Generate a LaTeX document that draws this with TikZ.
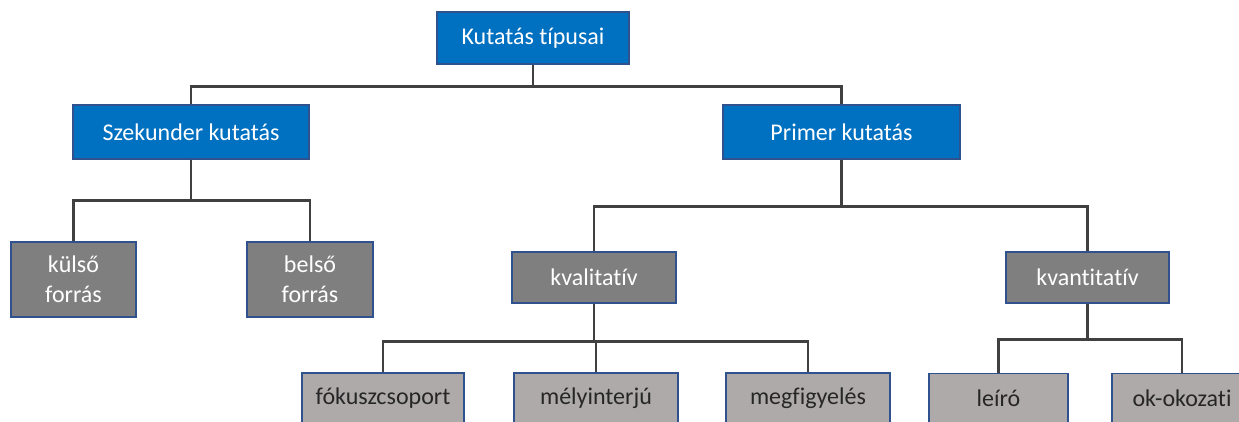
\documentclass[tikz,border=0pt]{standalone}
\usepackage{fontspec}
\setmainfont[Ligatures=NoCommon]{Carlito}
\definecolor{boxblue}{HTML}{0070C0}
\definecolor{edgeblue}{HTML}{2F528F}
\definecolor{darkgrey}{HTML}{7F7F7F}
\definecolor{lightgrey}{HTML}{AEAAAA}
\definecolor{linegrey}{HTML}{404040}
\definecolor{textdark}{HTML}{262626}
\begin{document}
\begin{tikzpicture}[x=1pt,y=-1pt,
  base/.style={rectangle, draw=edgeblue, line width=1.2pt, inner sep=0pt, align=center,
    font=\fontsize{24}{30}\selectfont},
  bluebox/.style={base, fill=boxblue, text=white},
  darkbox/.style={base, fill=darkgrey, text=white},
  lightbox/.style={base, fill=lightgrey, text=textdark},
  conn/.style={draw=linegrey, line width=2.4pt}]
\useasboundingbox (0,0) rectangle (1239,421);
\clip (0,0) rectangle (1239,421);
\node[bluebox, minimum width=192pt, minimum height=52pt] (top) at (533,38) {Kutatás típusai};
\node[bluebox, minimum width=236pt, minimum height=54pt] (sz) at (191,132) {Szekunder kutatás};
\node[bluebox, minimum width=237pt, minimum height=54pt] (pr) at (841.5,132) {Primer kutatás};
\node[darkbox, minimum width=125pt, minimum height=75pt] (kulso) at (73.5,279.5) {külső\\forrás};
\node[darkbox, minimum width=126pt, minimum height=75pt] (belso) at (310,279.5) {belső\\forrás};
\node[darkbox, minimum width=164pt, minimum height=51pt] (kval) at (594,277.5) {kvalitatív};
\node[darkbox, minimum width=163pt, minimum height=51pt] (kvant) at (1087.5,277.5) {kvantitatív};
\node[lightbox, minimum width=162pt, minimum height=50pt] (fok) at (383,398) {fókuszcsoport};
\node[lightbox, minimum width=164pt, minimum height=50pt] (mely) at (596,398) {mélyinterjú};
\node[lightbox, minimum width=164pt, minimum height=50pt] (megf) at (808,398) {megfigyelés};
\node[lightbox, minimum width=139pt, minimum height=50pt] (leiro) at (998.5,398.5) {leíró};
\node[lightbox, minimum width=140pt, minimum height=50pt] (ok) at (1182,398.5) {ok-okozati};
\draw[conn] (top.south) -- ++(0,22) -| (sz.north);
\draw[conn] (top.south) -- ++(0,22) -| (pr.north);
\draw[conn] (sz.south) -- ++(0,41) -| (kulso.north);
\draw[conn] (sz.south) -- ++(0,41) -| (belso.north);
\draw[conn] (pr.south) -- ++(0,47) -| (kval.north);
\draw[conn] (pr.south) -- ++(0,47) -| (kvant.north);
\draw[conn] (kval.south) -- ++(0,38) -| (fok.north);
\draw[conn] (kval.south) -- ++(0,38) -| (mely.north);
\draw[conn] (kval.south) -- ++(0,38) -| (megf.north);
\draw[conn] (kvant.south) -- ++(0,36) -| (leiro.north);
\draw[conn] (kvant.south) -- ++(0,36) -| (ok.north);
\end{tikzpicture}
\end{document}
